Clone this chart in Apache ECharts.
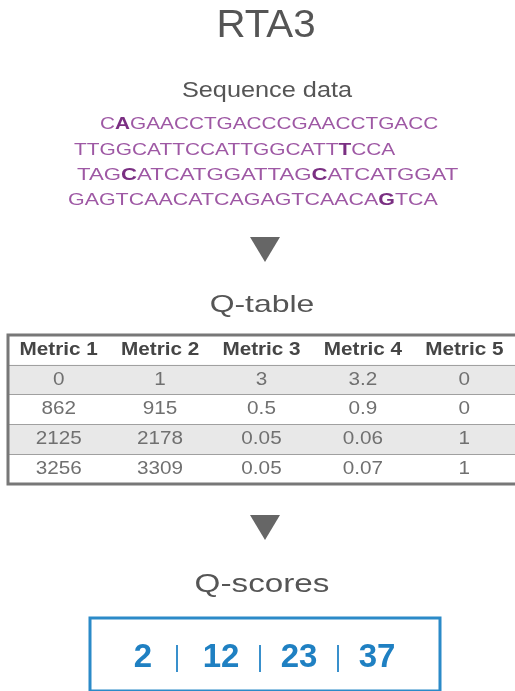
<!DOCTYPE html>
<html><head><meta charset="utf-8">
<script src="https://cdn.jsdelivr.net/npm/echarts@6/dist/echarts.min.js"></script>
<style>html,body{margin:0;padding:0;background:#fff}#c{width:515px;height:691px}</style>
</head><body><div id="c"></div>
<script>
// ---- data ----
const chartTitle = 'RTA3';
const sequenceTitle = 'Sequence data';
const sequenceLines = [
  'C[A]GAACCTGACCCGAACCTGACC',
  'TTGGCATTCCATTGGCATT[T]CCA',
  'TAG[C]ATCATGGATTAG[C]ATCATGGAT',
  'GAGTCAACATCAGAGTCAACA[G]TCA'
];
const tableTitle = 'Q-table';
const metricNames = ['Metric 1', 'Metric 2', 'Metric 3', 'Metric 4', 'Metric 5'];
const metricRows = [
  [0, 1, 3, 3.2, 0],
  [862, 915, 0.5, 0.9, 0],
  [2125, 2178, 0.05, 0.06, 1],
  [3256, 3309, 0.05, 0.07, 1]
];
const scoresTitle = 'Q-scores';
const qScores = [2, 12, 23, 37];

// ---- helpers ----
const FONT = '"Liberation Sans", Arial, Helvetica, sans-serif';
const SCORE_FONT = 'bold 33px ' + FONT;
const measureCtx = document.createElement('canvas').getContext('2d');
function textWidth(t, font) { measureCtx.font = font; return measureCtx.measureText(t).width; }
function toRich(line) {
  return line.split(/(\[[^\]]+\])/).filter(s => s.length).map(s =>
    s[0] === '[' ? '{b|' + s.slice(1, -1) + '}' : '{n|' + s + '}'
  ).join('');
}
const rowNames = ['header'].concat(metricRows.map((r, i) => 'row' + (i + 1)));
const tableCells = [];
metricNames.forEach((m, c) => tableCells.push({ col: c, row: 0, text: m }));
metricRows.forEach((r, ri) => r.forEach((v, c) => tableCells.push({ col: c, row: ri + 1, text: String(v) })));

function txt(text, x, y, size, sx, color, weight) {
  return {
    type: 'text', x: x, y: y, scaleX: sx, z: 50,
    style: {
      text: text, fill: color, font: (weight || 'normal') + ' ' + size + 'px ' + FONT,
      align: 'center', verticalAlign: 'middle', textAlign: 'center', textVerticalAlign: 'middle'
    }
  };
}

const seqLefts = [100, 74, 77, 68];
const seqYs = [124, 150, 175, 200];
const seqScales = [1.222, 1.228, 1.305, 1.26];
const graphics = [
  txt(chartTitle, 266, 27, 38, 1.06, '#555555'),
  txt(sequenceTitle, 267, 91, 22, 1.15, '#555555'),
  txt(tableTitle, 262, 305, 24, 1.33, '#555555'),
  txt(scoresTitle, 262, 585, 25, 1.33, '#555555'),
  { type: 'polygon', z: 50, shape: { points: [[250, 237], [280, 237], [265, 262]] }, style: { fill: '#666666' } },
  { type: 'polygon', z: 50, shape: { points: [[250, 515], [280, 515], [265, 540]] }, style: { fill: '#666666' } },
  { type: 'rect', z: 60, shape: { x: 8, y: 335, width: 530, height: 149 }, style: { fill: 'none', stroke: '#777777', lineWidth: 3 } },
  { type: 'rect', z: 60, shape: { x: 90, y: 618, width: 350, height: 73 }, style: { fill: 'none', stroke: '#2b8ac8', lineWidth: 3 } }
];
sequenceLines.forEach((line, i) => {
  graphics.push({
    type: 'text', x: seqLefts[i], y: seqYs[i], scaleX: seqScales[i], z: 50,
    style: {
      text: toRich(line), align: 'left', verticalAlign: 'middle', textAlign: 'left', textVerticalAlign: 'middle',
      rich: {
        n: { fill: '#9e58a4', font: 'normal 17px ' + FONT },
        b: { fill: '#7a2f82', font: 'bold 17px ' + FONT }
      }
    }
  });
});

const chart = echarts.init(document.getElementById('c'), null, { renderer: 'canvas' });
chart.setOption({
  animation: false,
  backgroundColor: '#ffffff',
  grid: [
    { left: 8, top: 335, width: 510, height: 149 },
    { left: 104, top: 645, width: 312, height: 26 }
  ],
  xAxis: [
    { type: 'category', gridIndex: 0, data: metricNames,
      axisLine: { show: false }, axisTick: { show: false }, axisLabel: { show: false }, splitLine: { show: false } },
    { type: 'category', gridIndex: 1, data: qScores.map(String),
      axisLine: { show: false }, axisTick: { show: false }, axisLabel: { show: false }, splitLine: { show: false } }
  ],
  yAxis: [
    { type: 'category', gridIndex: 0, data: rowNames, inverse: true,
      axisLine: { show: false }, axisTick: { show: false }, axisLabel: { show: false },
      splitLine: { show: true, interval: 0, showMinLine: false, showMaxLine: false, lineStyle: { color: '#a0a0a0', width: 1 } },
      splitArea: { show: true, interval: 0, areaStyle: { color: ['#ffffff', '#e8e8e8'] } } },
    { type: 'category', gridIndex: 1, data: ['score'],
      axisLine: { show: false }, axisTick: { show: false }, axisLabel: { show: false }, splitLine: { show: false } }
  ],
  series: [
    {
      type: 'custom', xAxisIndex: 0, yAxisIndex: 0,
      data: tableCells.map(c => [c.col, c.row]),
      renderItem: function (params, api) {
        const cell = tableCells[params.dataIndex];
        const p = api.coord([api.value(0), api.value(1)]);
        const head = cell.row === 0;
        return {
          type: 'text', x: p[0], y: p[1], scaleX: 1.15,
          style: {
            text: cell.text, fill: head ? '#454545' : '#707070',
            font: (head ? 'bold ' : 'normal ') + '18px ' + FONT,
            align: 'center', verticalAlign: 'middle', textAlign: 'center', textVerticalAlign: 'middle'
          }
        };
      }
    },
    {
      type: 'custom', xAxisIndex: 1, yAxisIndex: 1,
      data: qScores.map((s, i) => [i, 0]),
      renderItem: function (params, api) {
        const i = params.dataIndex;
        const p = api.coord([api.value(0), api.value(1)]);
        const children = [{
          type: 'text', x: p[0], y: p[1],
          style: {
            text: String(qScores[i]), fill: '#1f80c2', font: SCORE_FONT,
            align: 'center', verticalAlign: 'middle', textAlign: 'center', textVerticalAlign: 'middle'
          }
        }];
        if (i > 0) {
          const prev = api.coord([i - 1, 0]);
          const prevRight = prev[0] + textWidth(String(qScores[i - 1]), SCORE_FONT) / 2;
          const curLeft = p[0] - textWidth(String(qScores[i]), SCORE_FONT) / 2;
          const x = Math.round((prevRight + curLeft) / 2);
          children.push({
            type: 'line', shape: { x1: x, y1: 645, x2: x, y2: 672 },
            style: { stroke: '#3990cc', lineWidth: 2 }
          });
        }
        return { type: 'group', children: children };
      }
    }
  ],
  graphic: graphics
});
</script></body></html>
